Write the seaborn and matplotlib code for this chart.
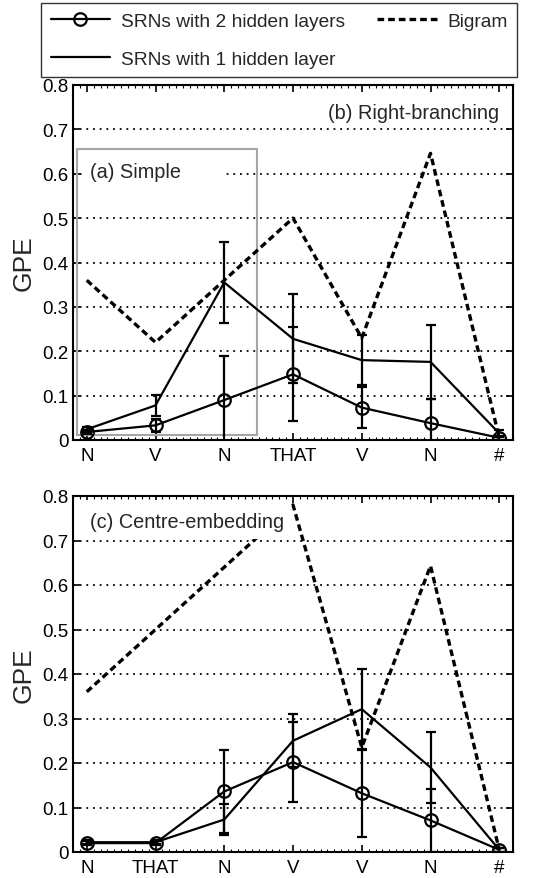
import numpy as np
import pandas as pd
import matplotlib
matplotlib.use("Agg")
import matplotlib.pyplot as plt
import seaborn as sns
from matplotlib.lines import Line2D
from matplotlib.patches import Rectangle
from matplotlib.ticker import MultipleLocator, FuncFormatter

# ---------------- data ----------------
words_rb = ['N', 'V', 'N', 'THAT', 'V', 'N', '#']
rb_srn2 = [0.018, 0.033, 0.090, 0.148, 0.073, 0.038, 0.005]
rb_srn2_err = [0.005, 0.014, 0.100, 0.106, 0.047, 0.054, 0.005]
rb_srn1 = [0.024, 0.078, 0.355, 0.228, 0.180, 0.176, 0.015]
rb_srn1_err = [0.005, 0.024, 0.092, 0.100, 0.056, 0.083, 0.008]
rb_bigram = [0.360, 0.220, 0.360, 0.500, 0.230, 0.646, 0.005]

words_ce = ['N', 'THAT', 'N', 'V', 'V', 'N', '#']
ce_srn2 = [0.020, 0.020, 0.136, 0.202, 0.132, 0.071, 0.005]
ce_srn2_err = [0.005, 0.005, 0.093, 0.090, 0.098, 0.070, 0.005]
ce_srn1 = [0.022, 0.022, 0.073, 0.250, 0.321, 0.190, 0.005]
ce_srn1_err = [0.005, 0.004, 0.035, 0.060, 0.090, 0.080, 0.005]
ce_bigram = [0.360, 0.500, 0.640, 0.780, 0.235, 0.643, 0.005]

labels = ['SRNs with 2 hidden layers', 'SRNs with 1 hidden layer', 'Bigram']

# ---------------- style ----------------
sns.set_theme(style='white')
plt.rcParams['font.family'] = ['Liberation Sans', 'DejaVu Sans']
plt.rcParams['axes.linewidth'] = 1.5

W, H = 541, 879
fig = plt.figure(figsize=(W / 100, H / 100), dpi=100)

def fx(px):
    return px / W

def fy(py):
    return 1 - py / H

ax1 = fig.add_axes([fx(73), fy(441), fx(513) - fx(73), fy(86) - fy(441)])
ax2 = fig.add_axes([fx(73), fy(853), fx(513) - fx(73), fy(497) - fy(853)])

LW = 1.6
DASH = (0, (2.0, 1.2))


def draw(ax, words, s2, s2e, s1, s1e, big):
    x = np.arange(1, len(words) + 1)
    df = pd.DataFrame({'pos': x, 's2': s2, 's1': s1, 'big': big})
    sns.lineplot(data=df, x='pos', y='big', ax=ax, color='black', lw=2.4,
                 linestyle=DASH, zorder=3)
    sns.lineplot(data=df, x='pos', y='s1', ax=ax, color='black', lw=LW, zorder=4)
    ax.errorbar(x, s1, yerr=s1e, fmt='none', ecolor='black', elinewidth=LW,
                capsize=3.3, capthick=LW, zorder=4)
    sns.lineplot(data=df, x='pos', y='s2', ax=ax, color='black', lw=LW,
                 marker='o', markersize=9, markerfacecolor='none',
                 markeredgecolor='black', markeredgewidth=1.6, zorder=5)
    ax.errorbar(x, s2, yerr=s2e, fmt='none', ecolor='black', elinewidth=LW,
                capsize=3.3, capthick=LW, zorder=5)

    ax.set_xlim(0.8, 7.2)
    ax.set_ylim(0, 0.8)
    ax.set_xticks(x)
    ax.set_xticklabels(words)
    ax.xaxis.set_minor_locator(MultipleLocator(0.1))
    ax.set_yticks(np.arange(0, 0.81, 0.1))
    ax.yaxis.set_major_formatter(FuncFormatter(lambda v, p: '0' if abs(v) < 1e-9 else f'{v:.1f}'))
    ax.tick_params(which='both', direction='in', top=True, right=True,
                   bottom=True, left=True, colors='black', labelsize=13.5)
    ax.tick_params(which='major', length=5, width=1.2)
    ax.tick_params(axis='x', which='major', pad=5)
    ax.tick_params(axis='y', which='major', pad=3)
    ax.tick_params(which='minor', length=2.5, width=0.8)
    ax.tick_params(axis='y', which='minor', left=False, right=False)
    ax.yaxis.grid(True, color='black', linestyle=(0, (1, 2.7)), lw=1.3)
    ax.xaxis.grid(False)
    ax.set_axisbelow(True)
    for sp in ax.spines.values():
        sp.set_color('black')
        sp.set_linewidth(1.5)
    ax.set_xlabel('')
    ax.set_ylabel('GPE', fontsize=19, labelpad=5)


draw(ax1, words_rb, rb_srn2, rb_srn2_err, rb_srn1, rb_srn1_err, rb_bigram)
draw(ax2, words_ce, ce_srn2, ce_srn2_err, ce_srn1, ce_srn1_err, ce_bigram)

# annotations, top panel
ax1.add_patch(Rectangle((0.975, 0.57), 2.967 - 0.975, 0.07, facecolor='white',
                        edgecolor='none', zorder=1.5))
ax1.add_patch(Rectangle((0.858, 0.011), 3.476 - 0.858, 0.656 - 0.011, fill=False,
                        edgecolor='#a6a6a6', lw=1.5, zorder=2))
ax1.text(1.05, 0.604, '(a) Simple', fontsize=14.3, ha='left', va='center', zorder=6)
ax1.text(7.0, 0.739, '(b) Right-branching', fontsize=14.3, ha='right', va='center', zorder=6,
         bbox=dict(facecolor='white', edgecolor='none', pad=1))

# annotation, bottom panel
ax2.add_patch(Rectangle((0.975, 0.704), 3.956 - 0.975, 0.086, facecolor='white',
                        edgecolor='none', zorder=3.5))
ax2.text(1.05, 0.742, '(c) Centre-embedding', fontsize=14.3, ha='left', va='center', zorder=6)

# legend
handles = [
    Line2D([], [], color='black', lw=LW, marker='o', markersize=9,
           markerfacecolor='none', markeredgecolor='black', markeredgewidth=1.6),
    Line2D([], [], color='black', lw=LW),
    Line2D([], [], color='black', lw=2.4, linestyle=DASH),
]
leg = fig.legend(handles, labels, loc='upper left', bbox_to_anchor=(fx(41), fy(4)),
                 ncol=2, frameon=True, fancybox=False, edgecolor='black',
                 borderaxespad=0, handlelength=3.1, handletextpad=0.55,
                 columnspacing=1.7, labelspacing=1.05, borderpad=0.5, fontsize=13.8)
leg.get_frame().set_linewidth(1.0)
leg.get_frame().set_facecolor('white')

fig.savefig('out.png', dpi=100)
